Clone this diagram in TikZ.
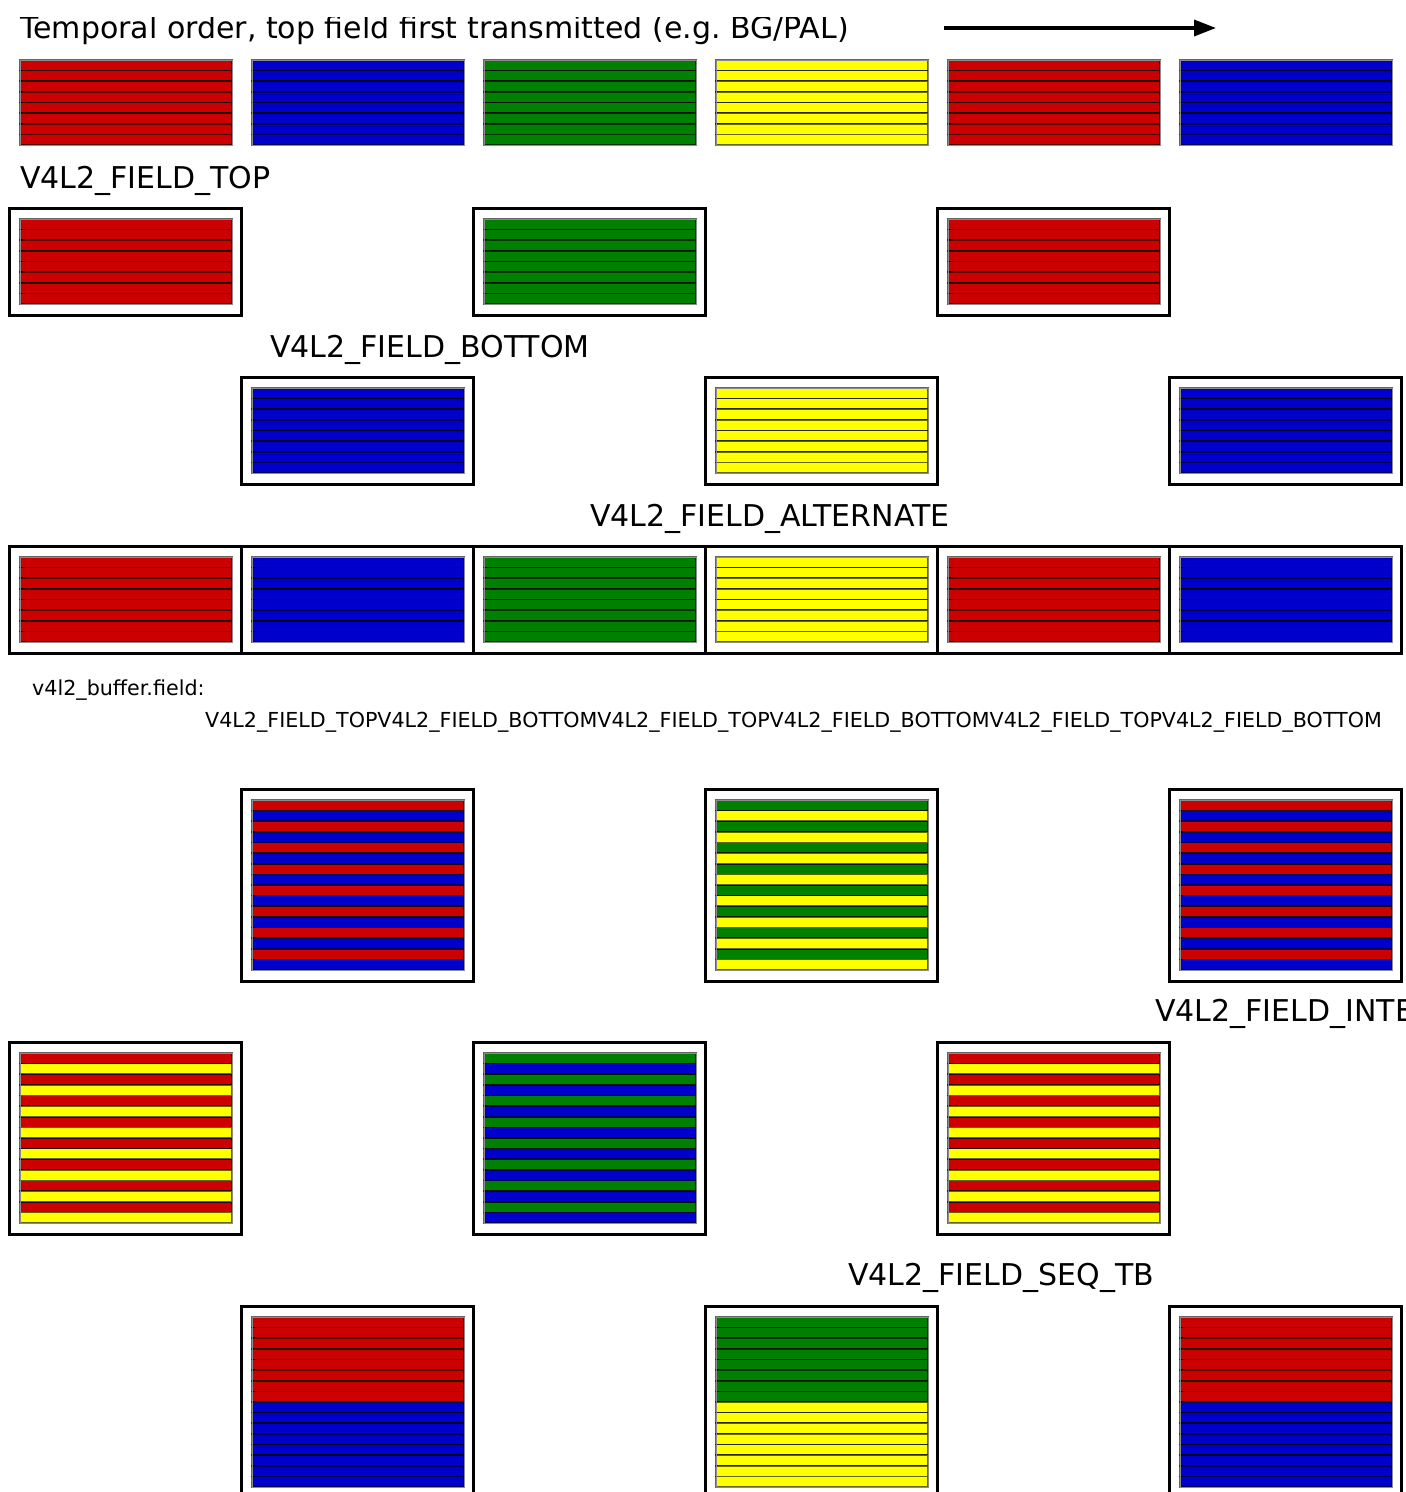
\documentclass[tikz,border=0pt]{standalone}
\usepackage{fontspec}
\setmainfont{DejaVu Sans}
\usetikzlibrary{arrows.meta}
\definecolor{fred}{RGB}{204,0,0}
\definecolor{fblue}{RGB}{0,0,204}
\definecolor{fgreen}{RGB}{0,128,0}
\definecolor{fyellow}{RGB}{255,255,0}
\tikzset{
  stripe/.style={draw=black, draw opacity=0.6, line width=1.6pt},
  blkedge/.style={draw=black!45, line width=1pt},
  framebox/.style={draw=black, line width=3pt},
  lbl/.style={anchor=base west, inner sep=0pt, font=\fontsize{30}{36}\selectfont},
  smalllbl/.style={anchor=base west, inner sep=0pt, font=\fontsize{20.65}{24}\selectfont},
  timearrow/.style={line width=3.5pt, -{Triangle[length=22pt,width=16pt]}},
}
% one field: 8 lines of one colour
\newcommand\fieldblk[3]{%
  \foreach \i in {0,...,7}{\path[stripe, fill=#3] (#1,#2+\i*10.625) rectangle ++(212,10.625);}
  \path[blkedge] (#1,#2) rectangle ++(212,85);}
% interlaced frame: 16 lines alternating
\newcommand\ilblk[4]{%
  \foreach \i in {0,2,...,14}{\path[stripe, fill=#3] (#1,#2+\i*10.625) rectangle ++(212,10.625);}
  \foreach \i in {1,3,...,15}{\path[stripe, fill=#4] (#1,#2+\i*10.625) rectangle ++(212,10.625);}
  \path[blkedge] (#1,#2) rectangle ++(212,170);}
% sequential frame: 8 lines of one colour, then 8 of the other
\newcommand\seqblk[4]{%
  \foreach \i in {0,...,7}{\path[stripe, fill=#3] (#1,#2+\i*10.625) rectangle ++(212,10.625);}
  \foreach \i in {8,...,15}{\path[stripe, fill=#4] (#1,#2+\i*10.625) rectangle ++(212,10.625);}
  \path[blkedge] (#1,#2) rectangle ++(212,170);}
% buffer frame round a block at (x,y) of height h
\newcommand\bufframe[3]{%
  \path[framebox] (#1-10.5,#2-11) rectangle ++(232,#3+22);}
\begin{document}
\begin{tikzpicture}[x=1pt,y=-1pt]
\useasboundingbox (0,0) rectangle (1406,1492);
\clip (0,0) rectangle (1406,1492);

% ---- title and time arrow
\begin{scope}
  \clip (0,17.5) rectangle (930,60);
  \node[lbl] (title) at (20,38) {Temporal order, top field first transmitted (e.g.\ BG/PAL)};
\end{scope}
\coordinate (arrS) at (944,28);
\coordinate (arrE) at (1216,28);
\draw[timearrow] (arrS) -- (arrE);

% ---- temporal sequence of fields
\fieldblk{20}{60}{fred}
\fieldblk{252}{60}{fblue}
\fieldblk{484}{60}{fgreen}
\fieldblk{716}{60}{fyellow}
\fieldblk{948}{60}{fred}
\fieldblk{1180}{60}{fblue}

% ---- V4L2_FIELD_TOP
\node[lbl] (ltop) at (20,188) {V4L2\_FIELD\_TOP};
\bufframe{20}{219}{85}   \fieldblk{20}{219}{fred}
\bufframe{484}{219}{85}  \fieldblk{484}{219}{fgreen}
\bufframe{948}{219}{85}  \fieldblk{948}{219}{fred}

% ---- V4L2_FIELD_BOTTOM
\node[lbl] (lbottom) at (270,357) {V4L2\_FIELD\_BOTTOM};
\bufframe{252}{388}{85}  \fieldblk{252}{388}{fblue}
\bufframe{716}{388}{85}  \fieldblk{716}{388}{fyellow}
\bufframe{1180}{388}{85} \fieldblk{1180}{388}{fblue}

% ---- V4L2_FIELD_ALTERNATE
\node[lbl] (lalt) at (590,526) {V4L2\_FIELD\_ALTERNATE};
\bufframe{20}{557}{85}   \fieldblk{20}{557}{fred}
\bufframe{252}{557}{85}  \fieldblk{252}{557}{fblue}
\bufframe{484}{557}{85}  \fieldblk{484}{557}{fgreen}
\bufframe{716}{557}{85}  \fieldblk{716}{557}{fyellow}
\bufframe{948}{557}{85}  \fieldblk{948}{557}{fred}
\bufframe{1180}{557}{85} \fieldblk{1180}{557}{fblue}
\node[smalllbl] (lbuf) at (32,695) {v4l2\_buffer.field:};
\node[smalllbl] (lbufval) at (205,727) {V4L2\_FIELD\_TOPV4L2\_FIELD\_BOTTOMV4L2\_FIELD\_TOPV4L2\_FIELD\_BOTTOMV4L2\_FIELD\_TOPV4L2\_FIELD\_BOTTOM};

% ---- interlaced frames
\bufframe{252}{800}{170}  \ilblk{252}{800}{fred}{fblue}
\bufframe{716}{800}{170}  \ilblk{716}{800}{fgreen}{fyellow}
\bufframe{1180}{800}{170} \ilblk{1180}{800}{fred}{fblue}
\node[lbl] (linter) at (1155,1021) {V4L2\_FIELD\_INTERLACED};
\bufframe{20}{1053}{170}  \ilblk{20}{1053}{fred}{fyellow}
\bufframe{484}{1053}{170} \ilblk{484}{1053}{fgreen}{fblue}
\bufframe{948}{1053}{170} \ilblk{948}{1053}{fred}{fyellow}

% ---- V4L2_FIELD_SEQ_TB
\node[lbl] (lseq) at (848,1285) {V4L2\_FIELD\_SEQ\_TB};
\bufframe{252}{1317}{170}  \seqblk{252}{1317}{fred}{fblue}
\bufframe{716}{1317}{170}  \seqblk{716}{1317}{fgreen}{fyellow}
\bufframe{1180}{1317}{170} \seqblk{1180}{1317}{fred}{fblue}
\end{tikzpicture}
\end{document}
